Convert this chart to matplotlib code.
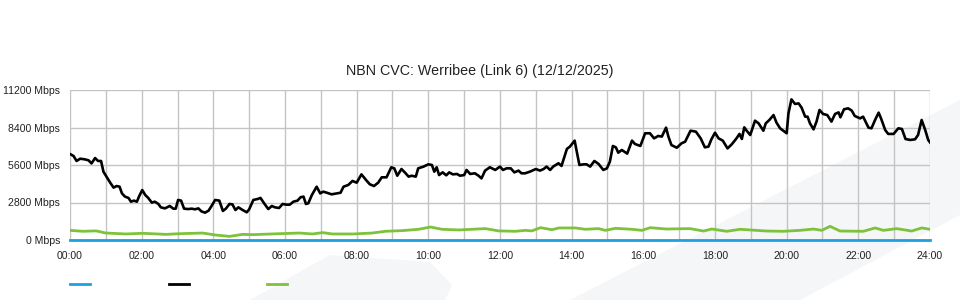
import matplotlib
matplotlib.use("Agg")
import matplotlib.pyplot as plt
from matplotlib.lines import Line2D
from matplotlib.patches import Polygon
import numpy as np

plt.rcParams['font.family'] = ['Liberation Sans', 'DejaVu Sans']

title = "NBN CVC: Werribee (Link 6) (12/12/2025)"

# traffic (black line): minutes since midnight, Mbps
traffic_min = [0, 6, 11, 17, 25, 31, 36, 42, 47, 52, 56, 61, 67, 73, 78, 83, 87, 92, 98, 102,
               107, 112, 116, 121, 126, 131, 137, 142, 148, 152, 159, 167, 173, 177, 181, 186,
               191, 198, 204, 209, 215, 220, 226, 232, 237, 243, 250, 256, 261, 267, 272, 277,
               282, 289, 296, 300, 307, 314, 319, 325, 332, 338, 343, 350, 356, 362, 368, 374,
               381, 386, 391, 395, 399, 405, 413, 419,
               424, 430, 438, 447, 453, 458, 466, 473, 480, 488, 497, 502, 509, 516, 522, 530,
               538, 543, 548, 555, 561, 567, 572, 579, 583, 592, 600, 606, 610, 614, 618, 624,
               630, 635, 641, 648, 653, 660, 664, 670, 678, 684, 689, 695, 703, 712, 720, 725,
               731, 738, 744, 751, 756, 762, 770, 780, 787, 793, 798, 804, 809, 818, 823, 832,
               837, 845, 848, 853, 860, 865, 871, 878, 885, 893, 899, 904, 909, 914, 918, 924,
               929, 933, 941, 946, 955,
               963, 971, 978, 985, 991, 998, 1002, 1007, 1016, 1024, 1030, 1039, 1048, 1056,
               1063, 1069, 1074, 1080, 1086, 1093, 1101, 1108, 1116, 1121, 1125, 1129, 1133,
               1139, 1147, 1153, 1161, 1165, 1171, 1178, 1183, 1189, 1200, 1203, 1208, 1214,
               1220, 1225, 1231, 1235, 1239, 1245, 1250, 1255, 1261, 1268, 1275, 1281, 1287,
               1290, 1296, 1303, 1309, 1314, 1323, 1328, 1337, 1342, 1348, 1354, 1358, 1365,
               1370, 1379, 1387, 1393, 1399, 1407, 1415, 1420, 1426, 1432, 1437, 1440]
traffic_mbps = [6420, 6270, 5900, 6070, 6020, 5950, 5720, 6120, 5900, 5900, 5100, 4730, 4300,
                3910, 4030, 3980, 3480, 3240, 3140, 2860, 2940, 2860, 3290, 3730, 3360, 3140,
                2790, 2860, 2690, 2440, 2360, 2540, 2340, 2340, 2990, 2940, 2340, 2310, 2340,
                2290, 2360, 2140, 2040, 2190, 2540, 2990, 2940, 2170, 2340, 2690, 2660, 2240,
                2440, 2240, 2070, 2290, 2990, 3060, 3140, 2740, 2310, 2540, 2440, 2390, 2690,
                2640, 2640, 2860, 2940, 3190, 3240, 2690, 2740, 3360, 3980, 3480,
                3610, 3530, 3410, 3480, 3530, 3980, 4110, 4410, 4280, 4900, 4410, 4160, 4030,
                4280, 4680, 4680, 5430, 5350, 4800, 5300, 5030, 4730, 4800, 4730, 5350, 5480,
                5650, 5600, 5100, 5430, 4850, 5050, 4830, 5050, 4900, 4930, 4800, 4850, 5230,
                4930, 4980, 4800, 4600, 5180, 5430, 5230, 5480, 5230, 5350, 5350, 5050, 5180,
                4980, 4980, 5100, 5300, 5180, 5300, 5480, 5230, 5480, 5730, 5530, 6800, 6970,
                7420, 6720, 5600, 5650, 5650, 5480, 5900, 5680, 5230, 5350, 5850, 7020, 6920,
                6520, 6720, 6570, 6450, 7420, 7170, 7020,
                7970, 7970, 7590, 7770, 7720, 8390, 7720, 7090, 6890, 7220, 7340, 8160, 8090,
                7590, 6920, 6970, 7520, 8010, 7590, 7420, 6840, 7140, 7590, 7920, 7540, 8410,
                8160, 7840, 8910, 8710, 8160, 8710, 8960, 9330, 8760, 8340, 7970, 9460, 10500,
                10160, 10200, 9880, 9210, 9210, 8710, 8260, 8840, 9710, 9410, 9330, 8840, 9410,
                9530, 9160, 9760, 9830, 9660, 9260, 9080, 9210, 8390, 8340, 8960, 9510, 9080,
                8210, 7920, 7920, 8340, 8290, 7540, 7470, 7520, 7840, 8960, 8210, 7470, 7290]

# green line: hours, Mbps
green_hr = [0, 0.35, 0.73, 1.0, 1.56, 2.03, 2.68, 3.05, 3.7, 4.07, 4.45, 4.82, 5.1, 5.84, 6.4,
            6.77, 7.05, 7.33, 7.9, 8.43, 8.8, 9.27, 9.73, 10.06, 10.38, 10.85, 11.59, 11.96,
            12.43, 12.71, 12.89, 13.13, 13.45, 13.64, 14.1, 14.38, 14.75, 14.94, 15.22, 15.68,
            15.96, 16.19, 16.65, 17.3, 17.68, 17.91, 18.33, 18.7, 19.44, 19.91, 20.37, 20.75,
            20.98, 21.21, 21.49, 22.14, 22.47, 22.7, 23.07, 23.49, 23.77, 24.0]
green_mbps = [720, 650, 680, 520, 450, 500, 420, 470, 520, 370, 270, 420, 400, 470, 520, 450,
              550, 450, 450, 520, 650, 700, 800, 970, 800, 750, 850, 680, 650, 720, 680, 920,
              770, 900, 900, 800, 850, 720, 870, 800, 720, 920, 820, 850, 670, 820, 650, 800,
              670, 650, 720, 820, 720, 1020, 670, 650, 900, 720, 850, 670, 900, 800]

# blue line: flat at zero
blue_hr = [0, 24]
blue_mbps = [0, 0]

yticks = [0, 2800, 5600, 8400, 11200]
ytick_labels = ["0 Mbps", "2800 Mbps", "5600 Mbps", "8400 Mbps", "11200 Mbps"]
xticks = list(range(0, 25, 2))
xtick_labels = ["%02d:00" % h for h in xticks]

c_blue = '#1ba1e2'
c_black = '#000000'
c_green = '#7dc23a'
c_grid = '#c4c4c4'

fig = plt.figure(figsize=(9.6, 3.0), dpi=100)

# faint background watermark shapes (pixel coords -> figure fraction)
W, H = 960.0, 300.0
for pts in ([(570, 300), (960, 100), (960, 215), (800, 300)],
            [(250, 300), (330, 255), (430, 262), (452, 285), (445, 300)]):
    poly = Polygon([(x / W, 1 - y / H) for x, y in pts], closed=True,
                   transform=fig.transFigure, facecolor='#f5f6f8', edgecolor='none',
                   zorder=-5)
    fig.patches.append(poly)

ax = fig.add_axes([70 / W, 60 / H, 860 / W, 150 / H])
ax.patch.set_alpha(0)

tx = np.array(traffic_min) / 60.0
ax.plot(green_hr, green_mbps, color=c_green, lw=2.0, zorder=3, solid_joinstyle='round')
ax.plot(tx, traffic_mbps, color=c_black, lw=1.9, zorder=4, solid_joinstyle='round')
ax.plot(blue_hr, blue_mbps, color=c_blue, lw=2.0, zorder=5, clip_on=False)

ax.set_xlim(0, 24)
ax.set_ylim(0, 11200)
ax.set_xticks(xticks)
ax.set_xticklabels(xtick_labels)
ax.set_xticks(range(0, 25), minor=True)
ax.set_yticks(yticks)
ax.set_yticklabels(ytick_labels)
ax.grid(True, which='both', axis='x', color=c_grid, lw=1.0)
ax.grid(True, which='major', axis='y', color=c_grid, lw=1.0)
ax.tick_params(axis='both', which='both', length=0, labelsize=7.6, colors='#222222')
ax.tick_params(axis='x', pad=8)
ax.tick_params(axis='y', pad=7)
for s in ax.spines.values():
    s.set_visible(False)

fig.text(0.5, 1 - 71 / H, title, ha='center', va='center', fontsize=10.3, color='#222222')

handles = [Line2D([], [], color=c_blue, lw=2),
           Line2D([], [], color=c_black, lw=2),
           Line2D([], [], color=c_green, lw=2)]
fig.legend(handles, ['', '', ''], ncol=3, frameon=False, loc='center left',
           bbox_to_anchor=(70 / W, 15 / H), borderpad=0, borderaxespad=0,
           handlelength=1.9, handletextpad=0, columnspacing=7.45, fontsize=7.6)

fig.savefig('out.png', dpi=100)
